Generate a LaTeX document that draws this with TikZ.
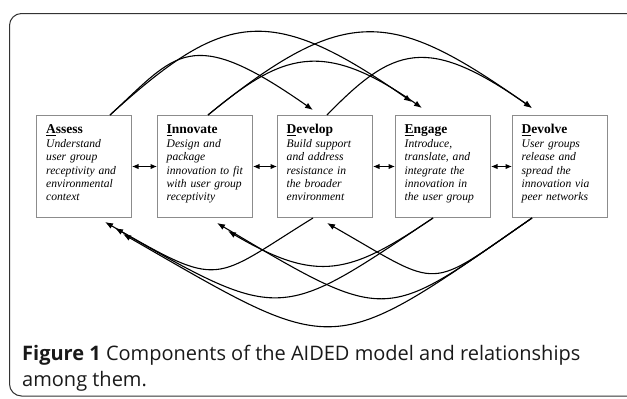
\documentclass[tikz,border=0pt]{standalone}
\usepackage{fontspec}
\setmainfont{Liberation Serif}
\newfontfamily\capfont{Open Sans}
\usetikzlibrary{arrows.meta}
% underline the initial letter of a stage name
\newcommand\initul[1]{\setbox0\hbox{#1}\rlap{\rule[-2.2pt]{\wd0}{1.1pt}}#1}
\begin{document}
\begin{tikzpicture}[x=1pt,y=-1pt,
  stage/.style={draw=black!45, line width=1pt, minimum width=95pt,
    minimum height=102pt, inner sep=0pt, anchor=north west},
  stagetext/.style={anchor=north west, inner sep=0pt, text width=84pt,
    align=left, font=\fontsize{11.6}{13.45}\selectfont},
  flow/.style={line width=1.1pt, -{Latex[length=8pt,width=6pt]}},
  mutual/.style={line width=1.1pt,
    {Latex[length=6.5pt,width=5.5pt]}-{Latex[length=6.5pt,width=5.5pt]}},
  captext/.style={anchor=base west, inner sep=0pt, text=black!90,
    font=\capfont\fontsize{20}{24}\selectfont},
]
\useasboundingbox (0,0) rectangle (627,399);

% outer panel frame
\begin{scope}
  \clip (0,0) rectangle (627,399);
  \draw[black!80, line width=1pt, rounded corners=12pt] (9.5,13.5) rectangle (680,396);
\end{scope}

% the five stages
\newcommand\stagetitle[2]{\rule{0pt}{10pt}{\fontsize{13.5}{13.45}\selectfont\bfseries\initul{#1}#2}}
\node[stage] (A) at (36,115) {};
\node[stage] (I) at (157,115) {};
\node[stage] (D) at (277,115) {};
\node[stage] (E) at (395,115) {};
\node[stage] (V) at (512,115) {};

\node[stagetext] (At) at ([xshift=10pt,yshift=-8.5pt]A.north west)
  {\stagetitle{A}{ssess}\\ \itshape Understand\\ user group\\ receptivity and\\ environmental\\ context};
\node[stagetext] (It) at ([xshift=9.5pt,yshift=-8.5pt]I.north west)
  {\stagetitle{I}{nnovate}\\ \itshape Design and\\ package\\ innovation to fit\\ with user group\\ receptivity};
\node[stagetext] (Dt) at ([xshift=9.5pt,yshift=-8.5pt]D.north west)
  {\stagetitle{D}{evelop}\\ \itshape Build support\\ and address\\ resistance in\\ the broader\\ environment};
\node[stagetext] (Et) at ([xshift=9.5pt,yshift=-8.5pt]E.north west)
  {\stagetitle{E}{ngage}\\ \itshape Introduce,\\ translate, and\\ integrate the\\ innovation in\\ the user group};
\node[stagetext] (Vt) at ([xshift=9.5pt,yshift=-8.5pt]V.north west)
  {\stagetitle{D}{evolve}\\ \itshape User groups\\ release and\\ spread the\\ innovation via\\ peer networks};

% links between neighbouring stages
\draw[mutual] (A) -- (I);
\draw[mutual] (I) -- (D);
\draw[mutual] (D) -- (E);
\draw[mutual] (E) -- (V);

% forward arcs over the top
\draw[flow] ([xshift=74pt]A.north west) .. controls (176.6,54) and (189,23) .. ([xshift=36pt,yshift=5pt]D.north west);
\draw[flow] ([xshift=74pt]A.north west) .. controls (224,11.5) and (269,1.8) .. ([xshift=17pt,yshift=13pt]E.north west);
\draw[flow] ([xshift=51pt]I.north west) .. controls (281.7,54) and (321.6,37.7) .. ([xshift=27pt,yshift=7pt]E.north west);
\draw[flow] ([xshift=51pt]I.north west) .. controls (347.5,1.4) and (392.5,10.3) .. ([xshift=20pt,yshift=7pt]V.north west);
\draw[flow] ([xshift=50pt]D.north west) .. controls (393.4,46.6) and (427,34.5) .. ([xshift=20pt,yshift=7pt]V.north west);

% backward arcs underneath
\draw[flow] ([xshift=36pt]D.south west) .. controls (211,281) and (223,290) .. ([xshift=69pt,yshift=-4pt]A.south west);
\draw[flow] ([xshift=38pt]E.south west) .. controls (281,320) and (282,324) .. ([xshift=79pt,yshift=-10pt]A.south west);
\draw[flow] ([xshift=20pt]V.south west) .. controls (327,360.4) and (340,358.8) .. ([xshift=87pt,yshift=-16pt]A.south west);
\draw[flow] ([xshift=38pt]E.south west) .. controls (350,274) and (318,284) .. ([xshift=71pt,yshift=-13pt]I.south west);
\draw[flow] ([xshift=20pt]V.south west) .. controls (383,321.5) and (391.6,326.8) .. ([xshift=60pt,yshift=-5pt]I.south west);
\draw[flow] ([xshift=20pt]V.south west) .. controls (424.7,292) and (443.6,289.6) .. ([xshift=50pt,yshift=-5pt]D.south west);

% caption
\node[captext] (cap1) at (22,360) {\textbf{Figure 1} Components of the AIDED model and relationships};
\node[captext] (cap2) at (22,386) {among them.};
\end{tikzpicture}
\end{document}
